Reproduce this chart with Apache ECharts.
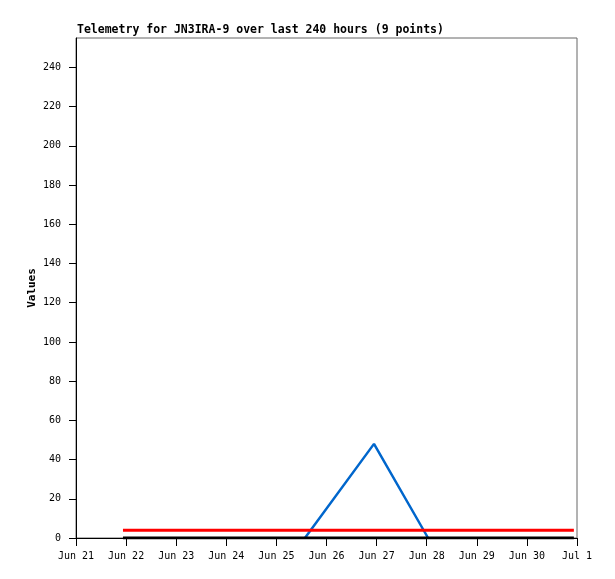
<!DOCTYPE html>
<html>
<head>
<meta charset="utf-8">
<script src="https://cdn.jsdelivr.net/npm/echarts@6/dist/echarts.min.js"></script>
<style>html,body{margin:0;padding:0;background:#fff}#c{width:615px;height:579px}</style>
</head>
<body>
<div id="c"></div>
<script>
const titleText = "Telemetry for JN3IRA-9 over last 240 hours (9 points)";
const yAxisName = "Values";
const yTicks = [0,20,40,60,80,100,120,140,160,180,200,220,240];
const xTickDates = ["2024-06-21","2024-06-22","2024-06-23","2024-06-24","2024-06-25","2024-06-26","2024-06-27","2024-06-28","2024-06-29","2024-06-30","2024-07-01"];
const blueTimes = ["2024-06-25T13:40:00Z","2024-06-26T22:45:00Z","2024-06-28T00:40:00Z"];
const blueValues = [0, 48, 0];
const redTimes = ["2024-06-21T22:30:00Z","2024-06-30T22:30:00Z"];
const redValues = [4, 4];
const blackTimes = ["2024-06-21T22:30:00Z","2024-06-30T22:30:00Z"];
const blackValues = [0, 0];
const monthNames = ["Jan","Feb","Mar","Apr","May","Jun","Jul","Aug","Sep","Oct","Nov","Dec"];

const DAY = 86400000;
const ts = s => Date.parse(s.length === 10 ? s + "T00:00:00Z" : s);
const pairs = (t, v) => t.map((x, i) => [ts(x), v[i]]);
const xTickVals = xTickDates.map(ts);
const font = "'DejaVu Sans Mono', monospace";

const chart = echarts.init(document.getElementById('c'));
chart.setOption({
  animation: false,
  backgroundColor: '#fff',
  title: {
    text: titleText, left: 72, top: 19,
    textStyle: { fontFamily: font, fontSize: 11.5, fontWeight: 'bold', color: '#000' }
  },
  grid: { left: 76, right: 38, top: 38, bottom: 41, show: true, borderColor: '#666', borderWidth: 1 },
  xAxis: {
    type: 'value',
    min: xTickVals[0], max: xTickVals[xTickVals.length - 1], interval: DAY,
    axisLine: { show: true, onZero: false, lineStyle: { color: '#000', width: 1 } },
    axisTick: { show: true, length: 8, lineStyle: { color: '#000' } },
    axisLabel: {
      margin: 13, showMinLabel: true, showMaxLabel: true,
      fontFamily: font, fontSize: 10, color: '#000',
      formatter: v => { const d = new Date(v); return monthNames[d.getUTCMonth()] + ' ' + d.getUTCDate(); }
    },
    splitLine: { show: false }
  },
  yAxis: {
    type: 'value', min: 0, max: 255,
    name: yAxisName, nameLocation: 'middle', nameGap: 38, nameRotate: 90, nameMoveOverlap: false,
    nameTextStyle: { fontFamily: font, fontSize: 11, fontWeight: 'bold', color: '#000' },
    axisLine: { show: true, lineStyle: { color: '#000', width: 1 } },
    axisTick: { show: true, customValues: yTicks, length: 7, lineStyle: { color: '#000' } },
    axisLabel: { customValues: yTicks, margin: 15, fontFamily: font, fontSize: 10, color: '#000' },
    splitLine: { show: false }
  },
  series: [
    { type: 'line', data: pairs(blueTimes, blueValues), symbol: 'none', lineStyle: { color: '#0066cc', width: 2.5 }, z: 2 },
    { type: 'line', data: pairs(redTimes, redValues), symbol: 'none', lineStyle: { color: '#ff0000', width: 3 }, z: 3 },
    { type: 'line', data: pairs(blackTimes, blackValues), symbol: 'none', lineStyle: { color: '#000000', width: 3 }, z: 4 }
  ]
});
</script>
</body>
</html>
